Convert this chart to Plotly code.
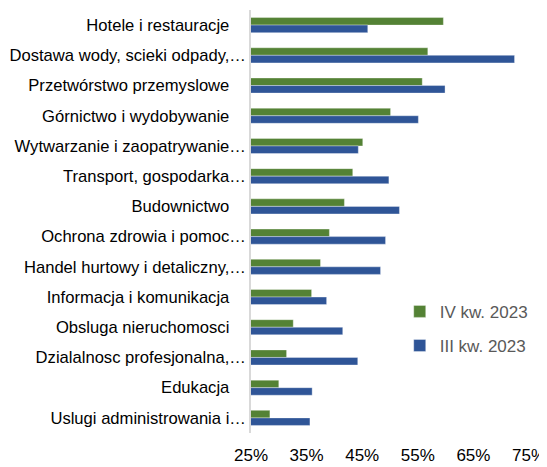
import plotly.graph_objects as go

categories = [
    "Hotele i restauracje",
    "Dostawa wody, scieki odpady,…",
    "Przetwórstwo przemyslowe",
    "Górnictwo i wydobywanie",
    "Wytwarzanie i zaopatrywanie…",
    "Transport, gospodarka…",
    "Budownictwo",
    "Ochrona zdrowia i pomoc…",
    "Handel hurtowy i detaliczny,…",
    "Informacja i komunikacja",
    "Obsluga nieruchomosci",
    "Dzialalnosc profesjonalna,…",
    "Edukacja",
    "Uslugi administrowania i…",
]
iv_kw_2023 = [59.6, 56.8, 55.8, 50.1, 45.1, 43.3, 41.8, 39.1, 37.5, 35.9, 32.6, 31.4, 30.0, 28.4]
iii_kw_2023 = [46.0, 72.4, 59.9, 55.1, 44.3, 49.8, 51.7, 49.2, 48.3, 38.6, 41.5, 44.2, 36.0, 35.6]
series_names = ["IV kw. 2023", "III kw. 2023"]
x_ticks = [25, 35, 45, 55, 65, 75]
x_tick_labels = ["25%", "35%", "45%", "55%", "65%", "75%"]

# labels that are not truncated keep a trailing gap, as in the source
tick_text = [c if c.endswith("…") else c + "\u2002\u2002" for c in categories]

GREEN = "#548235"
BLUE = "#2F5597"
FONT = "Liberation Sans, Arial, sans-serif"

fig = go.Figure()
fig.add_trace(go.Bar(
    y=categories, x=iv_kw_2023, name=series_names[0], orientation="h",
    marker=dict(color=GREEN, line=dict(color="rgba(255,255,255,0.35)", width=1)),
    legendgroup="a",
))
fig.add_trace(go.Bar(
    y=categories, x=iii_kw_2023, name=series_names[1], orientation="h",
    marker=dict(color=BLUE, line=dict(color="rgba(255,255,255,0.35)", width=1)),
    legendgroup="b",
))

# the page body adds an 8px offset; margins compensate for it
fig.update_layout(
    template="none",
    width=547, height=467,
    margin=dict(l=243, r=26, t=2, b=42, pad=0),
    paper_bgcolor="white", plot_bgcolor="white",
    barmode="group", bargap=0.5, bargroupgap=0,
    showlegend=True,
    legend=dict(
        x=0.535, y=0.329, xanchor="left", yanchor="top",
        font=dict(family=FONT, size=17, color="#595959"),
        bgcolor="rgba(0,0,0,0)", borderwidth=0, tracegroupgap=9,
    ),
    xaxis=dict(
        range=[25, 75], tickmode="array", tickvals=x_ticks, ticktext=x_tick_labels,
        showgrid=False, zeroline=False, showline=False, automargin=False,
        tickfont=dict(family=FONT, size=17, color="#000000"),
        ticks="", ticklabelstandoff=10,
    ),
    yaxis=dict(
        autorange="reversed", automargin=False,
        tickmode="array", tickvals=categories, ticktext=tick_text,
        showgrid=False, zeroline=False,
        showline=True, linecolor="#D9D9D9", linewidth=1.5,
        tickfont=dict(family=FONT, size=16.6, color="#000000"),
        ticks="", ticklabelstandoff=0,
    ),
)

fig.write_html("out.html")
